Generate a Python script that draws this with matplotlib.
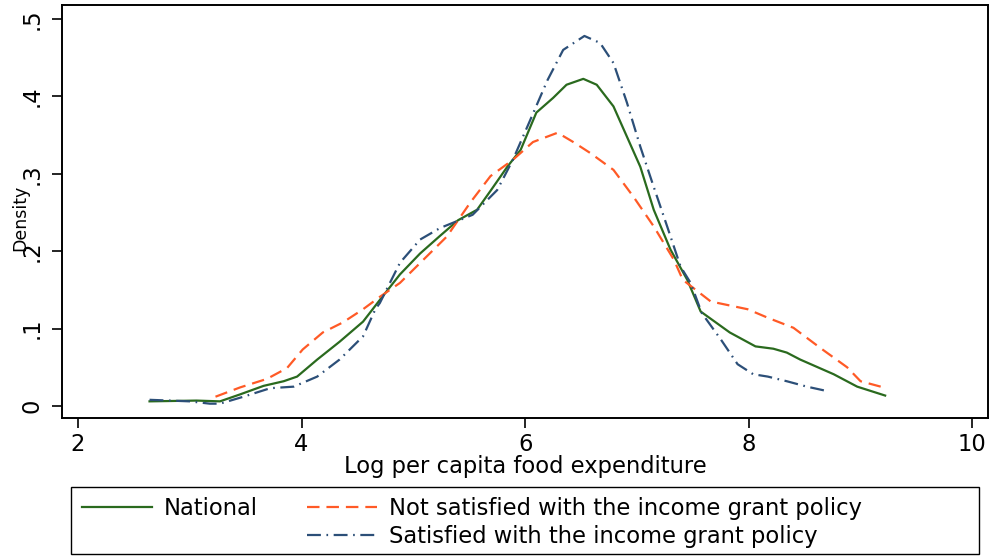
import matplotlib
matplotlib.use("Agg")
import matplotlib.pyplot as plt
from matplotlib.lines import Line2D
from matplotlib.patches import Rectangle

plt.rcParams['font.family'] = ['DejaVu Sans']
plt.rcParams['lines.scale_dashes'] = False

# Kernel density estimates of log per capita food expenditure
x_nat = [2.64, 3.06, 3.27, 3.45, 3.66, 3.84, 3.96, 4.14, 4.34, 4.55, 4.70, 4.88, 5.06, 5.24,
         5.40, 5.57, 5.70, 5.84, 5.96, 6.10, 6.25, 6.37, 6.52, 6.64, 6.79, 6.91, 7.03, 7.15,
         7.30, 7.45, 7.57, 7.83, 8.06, 8.22, 8.34, 8.46, 8.76, 8.97, 9.22]
y_nat = [0.006, 0.007, 0.006, 0.015, 0.026, 0.032, 0.038, 0.060, 0.083, 0.109, 0.137, 0.170,
         0.197, 0.220, 0.240, 0.2535, 0.280, 0.309, 0.331, 0.379, 0.398, 0.415, 0.4226, 0.415,
         0.387, 0.348, 0.309, 0.2535, 0.202, 0.163, 0.122, 0.095, 0.077, 0.074, 0.069, 0.060,
         0.041, 0.025, 0.0135]

x_not = [3.23, 3.45, 3.69, 3.87, 4.01, 4.19, 4.37, 4.55, 4.70, 4.88, 5.09, 5.30, 5.51, 5.69,
         5.89, 6.07, 6.29, 6.43, 6.58, 6.79, 6.97, 7.15, 7.33, 7.41, 7.66, 7.99, 8.17, 8.40,
         8.64, 8.88, 9.00, 9.18]
y_not = [0.012, 0.024, 0.035, 0.049, 0.073, 0.095, 0.108, 0.125, 0.141, 0.159, 0.189, 0.219,
         0.263, 0.297, 0.318, 0.341, 0.353, 0.341, 0.327, 0.305, 0.270, 0.232, 0.189, 0.163,
         0.135, 0.125, 0.114, 0.101, 0.075, 0.050, 0.032, 0.025]

x_sat = [2.64, 3.00, 3.18, 3.27, 3.48, 3.72, 3.93, 4.14, 4.34, 4.55, 4.66, 4.70, 4.88, 5.06,
         5.24, 5.53, 5.75, 5.89, 6.02, 6.20, 6.34, 6.53, 6.67, 6.79, 6.91, 7.03, 7.15, 7.27,
         7.39, 7.48, 7.58, 7.75, 7.90, 8.04, 8.17, 8.34, 8.52, 8.71]
y_sat = [0.008, 0.006, 0.003, 0.003, 0.012, 0.023, 0.025, 0.038, 0.060, 0.090, 0.125, 0.133,
         0.185, 0.215, 0.230, 0.247, 0.279, 0.318, 0.361, 0.421, 0.460, 0.478, 0.469, 0.443,
         0.392, 0.335, 0.283, 0.232, 0.180, 0.159, 0.120, 0.086, 0.054, 0.041, 0.038, 0.032,
         0.025, 0.019]

xticks = [2, 4, 6, 8, 10]
yticks = [0, 0.1, 0.2, 0.3, 0.4, 0.5]
ytick_labels = ['0', '.1', '.2', '.3', '.4', '.5']

labels = ['National',
          'Not satisfied with the income grant policy',
          'Satisfied with the income grant policy']

c_nat = '#2a6a1e'
c_not = '#ff5a26'
c_sat = '#2c4f78'
lw = 1.6
dash_not = (9, 5)
dash_sat = (10, 4, 1.2, 4)
fs = 16.3

W, H = 993, 556
fig = plt.figure(figsize=(W / 100, H / 100), dpi=100)
ax = fig.add_axes([62 / W, 1 - 418 / H, (988 - 62) / W, (418 - 5) / H])

ax.plot(x_nat, y_nat, color=c_nat, lw=lw, solid_joinstyle='round')
ax.plot(x_not, y_not, color=c_not, lw=lw, dashes=dash_not)
ax.plot(x_sat, y_sat, color=c_sat, lw=lw, dashes=dash_sat)

ax.set_xlim(1.857, 10.14)
ax.set_ylim(-0.0155, 0.518)
ax.set_xticks(xticks)
ax.set_xticklabels([str(t) for t in xticks])
ax.set_yticks(yticks)
ax.set_yticklabels(ytick_labels, rotation=90, va='center')
ax.tick_params(axis='both', direction='out', length=7, width=1.2, labelsize=fs)
ax.tick_params(axis='x', pad=4)
ax.tick_params(axis='y', pad=6)
for s in ax.spines.values():
    s.set_linewidth(1.4)

fig.text(525 / W, 1 - 467 / H, 'Log per capita food expenditure', fontsize=fs,
         ha='center', va='center')
fig.text(20 / W, 1 - 218 / H, 'Density', rotation=90, fontsize=12.5,
         ha='center', va='center')

# Legend box
fig.add_artist(Rectangle((71 / W, 1 - 554 / H), (979 - 71) / W, (554 - 487) / H,
                         transform=fig.transFigure, fill=False, edgecolor='black',
                         lw=1.0))

h_nat = Line2D([], [], color=c_nat, lw=lw)
h_not = Line2D([], [], color=c_not, lw=lw, dashes=dash_not)
h_sat = Line2D([], [], color=c_sat, lw=lw, dashes=dash_sat)
h_blank = Line2D([], [], color='none')
leg = fig.legend([h_nat, h_blank, h_not, h_sat], [labels[0], '', labels[1], labels[2]],
                 ncol=2, loc='upper left', bbox_to_anchor=(82 / W, 1 - 497 / H),
                 fontsize=fs, frameon=False, handlelength=3.1, handletextpad=0.5,
                 columnspacing=2.2, labelspacing=0.2, borderpad=0, borderaxespad=0)

fig.savefig('out.png', dpi=100)
